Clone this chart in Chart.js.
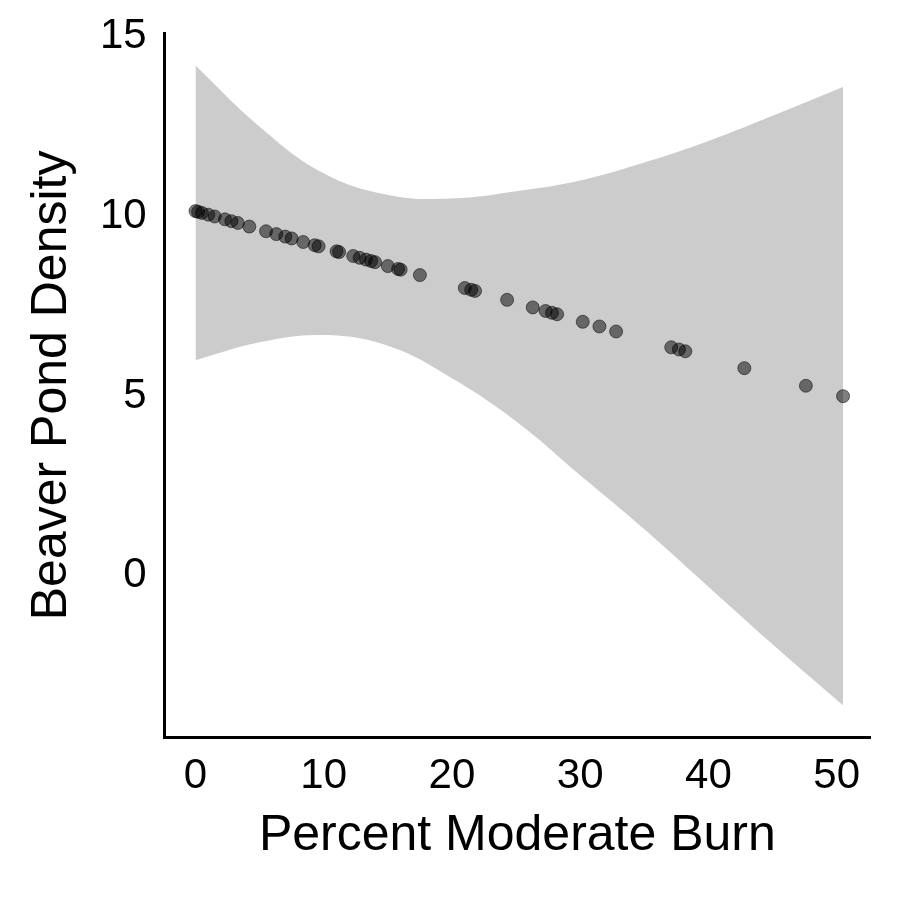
<!DOCTYPE html>
<html><head><style>html,body{margin:0;padding:0;background:#fff}</style>
<script src="https://cdn.jsdelivr.net/npm/chart.js@4"></script></head>
<body><div style="width:900px;height:900px"><canvas id="c" width="900" height="900"></canvas></div>
<script>
const bandX = [0, 5, 10, 15, 20, 25, 30, 35, 40, 45, 50.5];
const bandUpper = [14.2, 12.5, 11.2, 10.6, 10.5, 10.7, 11.0, 11.5, 12.1, 12.8, 13.6];
const bandLower = [6.0, 6.5, 6.7, 6.4, 5.5, 4.3, 2.8, 1.3, -0.3, -1.9, -3.6];
const pointX = [0,0.2,0.5,1,1.5,2.3,2.8,3.3,4.2,5.5,6.3,7,7.5,8.4,9.3,9.6,11,11.2,12.3,12.8,13.3,13.7,14,15,15.8,16,17.5,21,21.5,21.8,24.3,26.3,27.3,27.8,28.2,30.2,31.5,32.8,37.1,37.7,38.2,42.8,47.6,50.5];
const pointY = [10.15,10.13,10.1,10.05,10.0,9.92,9.87,9.82,9.72,9.59,9.51,9.44,9.39,9.29,9.2,9.17,9.03,9.01,8.9,8.85,8.8,8.76,8.73,8.62,8.54,8.52,8.37,8.01,7.96,7.93,7.68,7.47,7.37,7.32,7.28,7.07,6.94,6.8,6.36,6.3,6.25,5.78,5.29,5.0];
const xTicks = [0,10,20,30,40,50];
const yTicks = [0,5,10,15];
const font = 'Liberation Sans, Arial, sans-serif';
new Chart(document.getElementById('c'), {
  type: 'scatter',
  data: { datasets: [
    { type:'line', order:2, data: bandX.map((x,i)=>({x, y: bandUpper[i]})), borderWidth:0, pointRadius:0, tension:0.4, fill:'+1', backgroundColor:'#cccccc' },
    { type:'line', order:2, data: bandX.map((x,i)=>({x, y: bandLower[i]})), borderWidth:0, pointRadius:0, tension:0.4, fill:false },
    { order:1, data: pointX.map((x,i)=>({x, y: pointY[i]})), pointRadius:6.5, backgroundColor:'rgba(0,0,0,0.5)', borderColor:'rgba(0,0,0,0.5)', borderWidth:1 }
  ]},
  options: {
    responsive:false, animation:false,
    layout:{padding:{left:18,right:30,top:26,bottom:30}},
    plugins:{legend:{display:false},tooltip:{enabled:false}},
    scales:{
      x:{type:'linear',min:-2.4,max:52.6,
        afterBuildTicks:a=>{a.ticks=xTicks.map(v=>({value:v}));},
        grid:{display:false,drawTicks:true,tickLength:10,tickColor:'#000',tickWidth:2},
        border:{color:'#000',width:3},
        ticks:{color:'#000',font:{family:font,size:42},padding:4,maxRotation:0},
        title:{display:true,text:'Percent Moderate Burn',color:'#000',font:{family:font,size:50},padding:{top:0}}},
      y:{min:-4.5,max:15.1,
        afterBuildTicks:a=>{a.ticks=yTicks.map(v=>({value:v}));},
        grid:{display:false,drawTicks:true,tickLength:10,tickColor:'#000',tickWidth:2},
        border:{color:'#000',width:3},
        ticks:{color:'#000',font:{family:font,size:42},padding:8},
        title:{display:true,text:'Beaver Pond Density',color:'#000',font:{family:font,size:50},padding:{bottom:10}}}
    }
  }
});
</script></body></html>
